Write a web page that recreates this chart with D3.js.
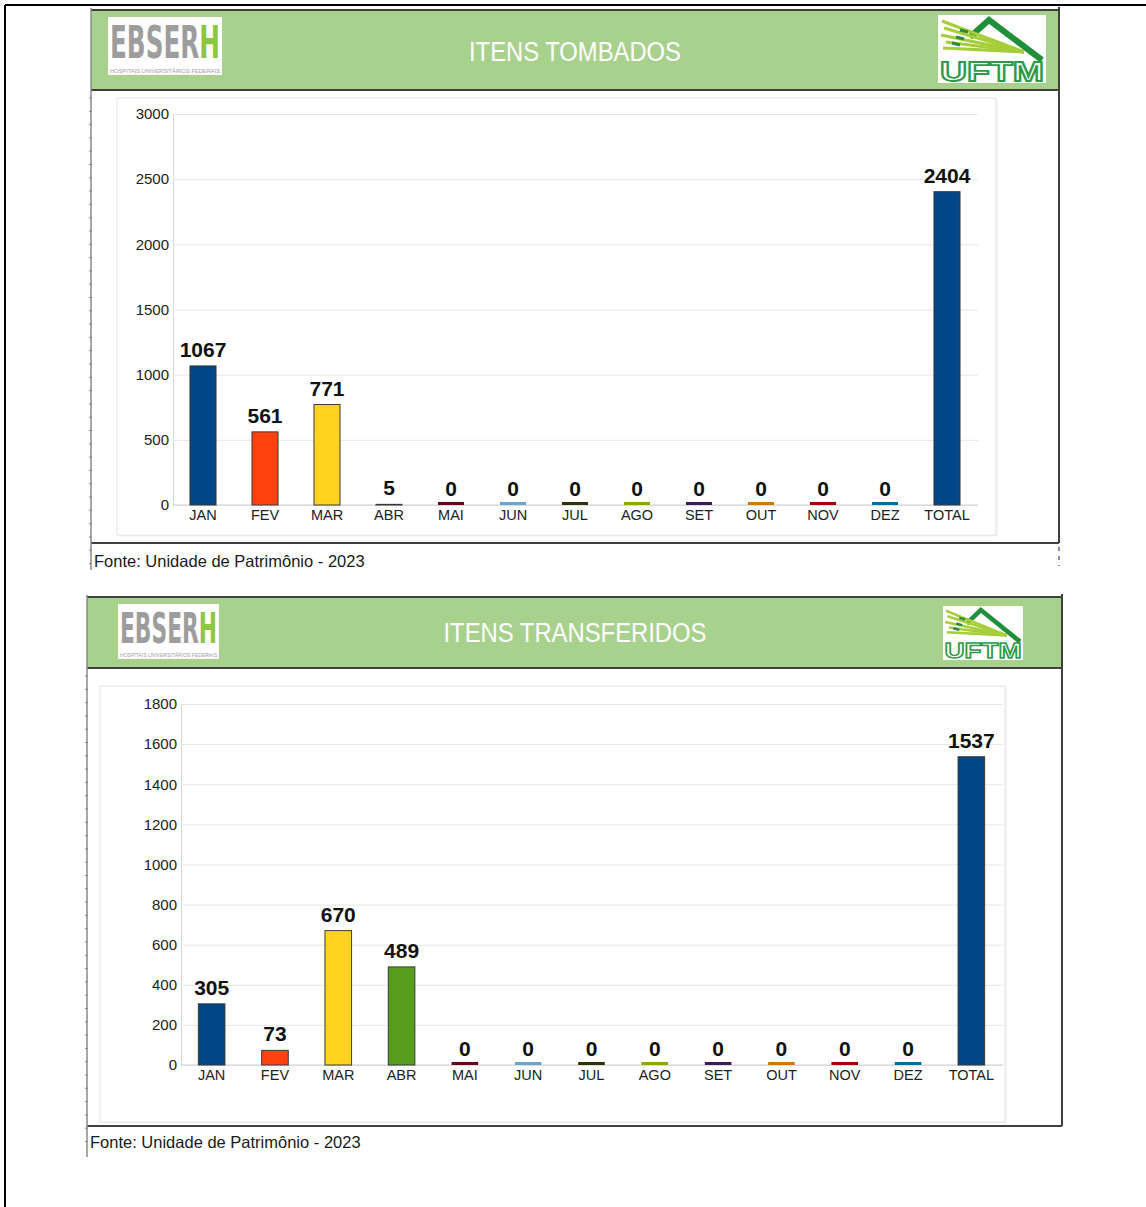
<!DOCTYPE html>
<html>
<head>
<meta charset="utf-8">
<title>Itens tombados e transferidos - 2023</title>
<script src="https://d3js.org/d3.v7.min.js"></script>
<style>
  body { margin: 0; background: #fff; }
</style>
</head>
<body>
<div id="chart"></div>
<script>
// dados
const meses = ["JAN", "FEV", "MAR", "ABR", "MAI", "JUN", "JUL", "AGO", "SET", "OUT", "NOV", "DEZ", "TOTAL"];
const tombados = [1067, 561, 771, 5, 0, 0, 0, 0, 0, 0, 0, 0, 2404];
const transferidos = [305, 73, 670, 489, 0, 0, 0, 0, 0, 0, 0, 0, 1537];
const ticksTombados = [0, 500, 1000, 1500, 2000, 2500, 3000];
const ticksTransferidos = [0, 200, 400, 600, 800, 1000, 1200, 1400, 1600, 1800];
const cores = ["#004586", "#ff420e", "#ffd320", "#579d1c", "#7e0021", "#83caff",
               "#314004", "#aecf00", "#4b1f6f", "#ff950e", "#c5000b", "#0084d1"];
const fonte = "Fonte: Unidade de Patrimônio - 2023";

const FONT = "'Liberation Sans', Arial, sans-serif";

const svg = d3.select("#chart").append("svg")
    .attr("width", 1146)
    .attr("height", 1207);
const defs = svg.append("defs");

// moldura da página
svg.append("line").attr("x1", 5).attr("x2", 1146).attr("y1", 5).attr("y2", 5)
    .attr("stroke", "#000").attr("stroke-width", 2);
svg.append("line").attr("x1", 5).attr("x2", 5).attr("y1", 5).attr("y2", 1207)
    .attr("stroke", "#000").attr("stroke-width", 2);

function logoEbserh(g, id, x, y, w, h) {
    const l = g.append("g").attr("transform", `translate(${x},${y})`);
    l.append("rect").attr("width", w).attr("height", h).attr("fill", "#fff");
    // "EBSER" cinza e "H" verde num único texto, cor trocada por gradiente
    const corte = (2 + (w - 4) * 0.83) / w;
    const grad = defs.append("linearGradient").attr("id", id)
        .attr("gradientUnits", "userSpaceOnUse")
        .attr("x1", 0).attr("x2", w).attr("y1", 0).attr("y2", 0);
    grad.append("stop").attr("offset", corte).attr("stop-color", "#9d9d9d");
    grad.append("stop").attr("offset", corte).attr("stop-color", "#8dc63f");
    l.append("text")
        .attr("x", 2).attr("y", h * 0.7)
        .attr("font-family", "'DejaVu Sans Condensed', 'Liberation Sans Narrow', sans-serif")
        .attr("font-weight", "bold")
        .attr("font-size", h * 0.78)
        .attr("fill", `url(#${id})`)
        .attr("textLength", w - 4)
        .attr("lengthAdjust", "spacingAndGlyphs")
        .text("EBSERH");
    l.append("text")
        .attr("x", 2).attr("y", h - 2)
        .attr("font-family", FONT)
        .attr("font-size", 5)
        .attr("fill", "#a0a0a0")
        .attr("textLength", w - 4)
        .attr("lengthAdjust", "spacingAndGlyphs")
        .text("HOSPITAIS UNIVERSITÁRIOS FEDERAIS");
}

function logoUftm(g, x, y, w, h) {
    const l = g.append("g").attr("transform", `translate(${x},${y}) scale(${w / 108},${h / 68})`);
    l.append("rect").attr("width", 108).attr("height", 68).attr("fill", "#fff");
    // telhado
    l.append("path").attr("d", "M32,22 L51,5 L104,45")
        .attr("fill", "none").attr("stroke", "#1f8f3a").attr("stroke-width", 6);
    // raios
    [[4, 6], [6, 13], [3, 20], [8, 27], [5, 33]].forEach(function(r) {
        l.append("path").attr("d", `M${r[0]},${r[1]} L86,37`)
            .attr("fill", "none").attr("stroke", "#a6ce39").attr("stroke-width", 3.2);
    });
    l.append("path").attr("d", "M22,15 L30,17 M18,22 L26,24 M14,28 L22,30")
        .attr("stroke", "#2b8a3e").attr("stroke-width", 3);
    l.append("text")
        .attr("x", 2).attr("y", 66)
        .attr("font-family", FONT)
        .attr("font-weight", "bold")
        .attr("font-size", 28)
        .attr("fill", "#fff")
        .attr("stroke", "#2e9a48")
        .attr("stroke-width", 1.8)
        .attr("textLength", 104)
        .attr("lengthAdjust", "spacingAndGlyphs")
        .text("UFTM");
}

function desenharPainel(p, valores, ticks) {
    const g = svg.append("g");

    // cabeçalho verde
    g.append("rect")
        .attr("x", p.x0).attr("y", p.top)
        .attr("width", p.x1 - p.x0).attr("height", p.head - p.top)
        .attr("fill", "#a9d18e");

    // área do gráfico
    g.append("rect")
        .attr("x", p.inner[0] + 1.5).attr("y", p.inner[1] + 1.5)
        .attr("width", p.inner[2]).attr("height", p.inner[3])
        .attr("fill", "#f1f1f1");
    g.append("rect")
        .attr("x", p.inner[0]).attr("y", p.inner[1])
        .attr("width", p.inner[2]).attr("height", p.inner[3])
        .attr("fill", "#fff").attr("stroke", "#e4e4e4");

    // bordas do painel
    const borda = "#404040";
    g.append("line").attr("x1", p.x0).attr("x2", p.x1).attr("y1", p.top).attr("y2", p.top)
        .attr("stroke", borda).attr("stroke-width", 2);
    g.append("line").attr("x1", p.x0).attr("x2", p.x1).attr("y1", p.head).attr("y2", p.head)
        .attr("stroke", borda).attr("stroke-width", 2);
    g.append("line").attr("x1", p.x0).attr("x2", p.x1).attr("y1", p.bottom).attr("y2", p.bottom)
        .attr("stroke", borda).attr("stroke-width", 2);
    g.append("line").attr("x1", p.x1).attr("x2", p.x1).attr("y1", p.top - 3).attr("y2", p.bottom)
        .attr("stroke", borda).attr("stroke-width", 2);
    g.append("line").attr("x1", p.x0).attr("x2", p.x0).attr("y1", p.top - 2).attr("y2", p.leftEnd)
        .attr("stroke", "#8a8a8a").attr("stroke-width", 1.5);
    // marcas da régua
    for (let yy = p.head + 8; yy < p.leftEnd - 4; yy += 13.3) {
        g.append("line").attr("x1", p.x0 - 2).attr("x2", p.x0 + 1).attr("y1", yy).attr("y2", yy)
            .attr("stroke", "#888").attr("stroke-width", 1);
    }

    // título e logos
    g.append("text")
        .attr("x", 575).attr("y", p.titleY)
        .attr("text-anchor", "middle")
        .attr("font-family", FONT)
        .attr("font-size", 27)
        .attr("fill", "#fff")
        .attr("textLength", p.titleW)
        .attr("lengthAdjust", "spacingAndGlyphs")
        .text(p.title);
    logoEbserh(g, p.id, p.ebserh[0], p.ebserh[1], p.ebserh[2], p.ebserh[3]);
    logoUftm(g, p.uftm[0], p.uftm[1], p.uftm[2], p.uftm[3]);

    // escalas
    const x = d3.scaleBand()
        .domain(meses)
        .range([p.bx0, p.bx1])
        .paddingInner(0.58)
        .paddingOuter(0.29);
    const y = d3.scaleLinear()
        .domain([0, d3.max(ticks)])
        .range([p.y0, p.y1]);

    // eixo y + grade
    const ya = g.append("g")
        .attr("transform", `translate(${p.gx0},0)`)
        .call(d3.axisLeft(y).tickValues(ticks).tickFormat(d3.format("d"))
            .tickSize(-(p.gx1 - p.gx0)).tickSizeOuter(0).tickPadding(4));
    ya.attr("font-family", FONT);
    ya.select(".domain").attr("stroke", "#d9d9d9");
    ya.selectAll(".tick line").attr("stroke", "#e6e6e6");
    ya.selectAll(".tick text").attr("font-size", 15).attr("fill", "#222");

    // eixo x
    const xa = g.append("g")
        .attr("transform", `translate(0,${p.y0})`)
        .call(d3.axisBottom(x).tickSize(0).tickPadding(5));
    xa.attr("font-family", FONT);
    xa.select(".domain").attr("stroke", "#d0d0d0").attr("d", `M${p.gx0},0H${p.gx1}`);
    xa.selectAll(".tick text").attr("font-size", 14.5).attr("fill", "#222");

    // barras (valor zero vira um traço colorido sobre o eixo)
    g.selectAll("rect.barra")
        .data(valores)
        .join("rect")
        .attr("class", "barra")
        .attr("x", (d, i) => x(meses[i]))
        .attr("width", x.bandwidth())
        .attr("y", d => d === 0 ? y(0) - 3 : y(d))
        .attr("height", d => d === 0 ? 3 : y(0) - y(d))
        .attr("fill", (d, i) => d === 0 ? d3.color(cores[i % cores.length]).darker(0.6) : cores[i % cores.length])
        .attr("stroke", d => d === 0 ? "none" : "#3a3a3a")
        .attr("stroke-width", 1);

    // rótulos
    g.selectAll("text.rotulo")
        .data(valores)
        .join("text")
        .attr("class", "rotulo")
        .attr("x", (d, i) => x(meses[i]) + x.bandwidth() / 2)
        .attr("y", d => y(d) - 9)
        .attr("text-anchor", "middle")
        .attr("font-family", FONT)
        .attr("font-weight", "bold")
        .attr("font-size", 21)
        .attr("fill", "#111")
        .text(d => d);

    // fonte
    g.append("text")
        .attr("x", p.fonte[0]).attr("y", p.fonte[1])
        .attr("font-family", FONT)
        .attr("font-size", 16.5)
        .attr("fill", "#1a1a1a")
        .text(fonte);
}

desenharPainel({
    id: "ebserh1",
    x0: 91, x1: 1059, top: 10, head: 90, bottom: 543, leftEnd: 570,
    title: "ITENS TOMBADOS", titleY: 61, titleW: 212,
    inner: [117, 98, 879, 437],
    gx0: 173, gx1: 978, bx0: 172, bx1: 978, y0: 505, y1: 114,
    ebserh: [108, 17, 114, 58], uftm: [938, 15, 108, 68],
    fonte: [94, 567]
}, tombados, ticksTombados);

desenharPainel({
    id: "ebserh2",
    x0: 87, x1: 1062, top: 597, head: 668, bottom: 1126, leftEnd: 1157,
    title: "ITENS TRANSFERIDOS", titleY: 642, titleW: 263,
    inner: [100, 686, 905, 436],
    gx0: 181, gx1: 1003, bx0: 180, bx1: 1003, y0: 1065, y1: 704,
    ebserh: [118, 604, 101, 55], uftm: [943, 606, 80, 54],
    fonte: [90, 1148]
}, transferidos, ticksTransferidos);

// pequenas marcas azuis à direita do primeiro painel
svg.append("line").attr("x1", 1059).attr("x2", 1059).attr("y1", 547).attr("y2", 566)
    .attr("stroke", "#6a5acd").attr("stroke-width", 1.5).attr("stroke-dasharray", "4,5");
</script>
</body>
</html>
